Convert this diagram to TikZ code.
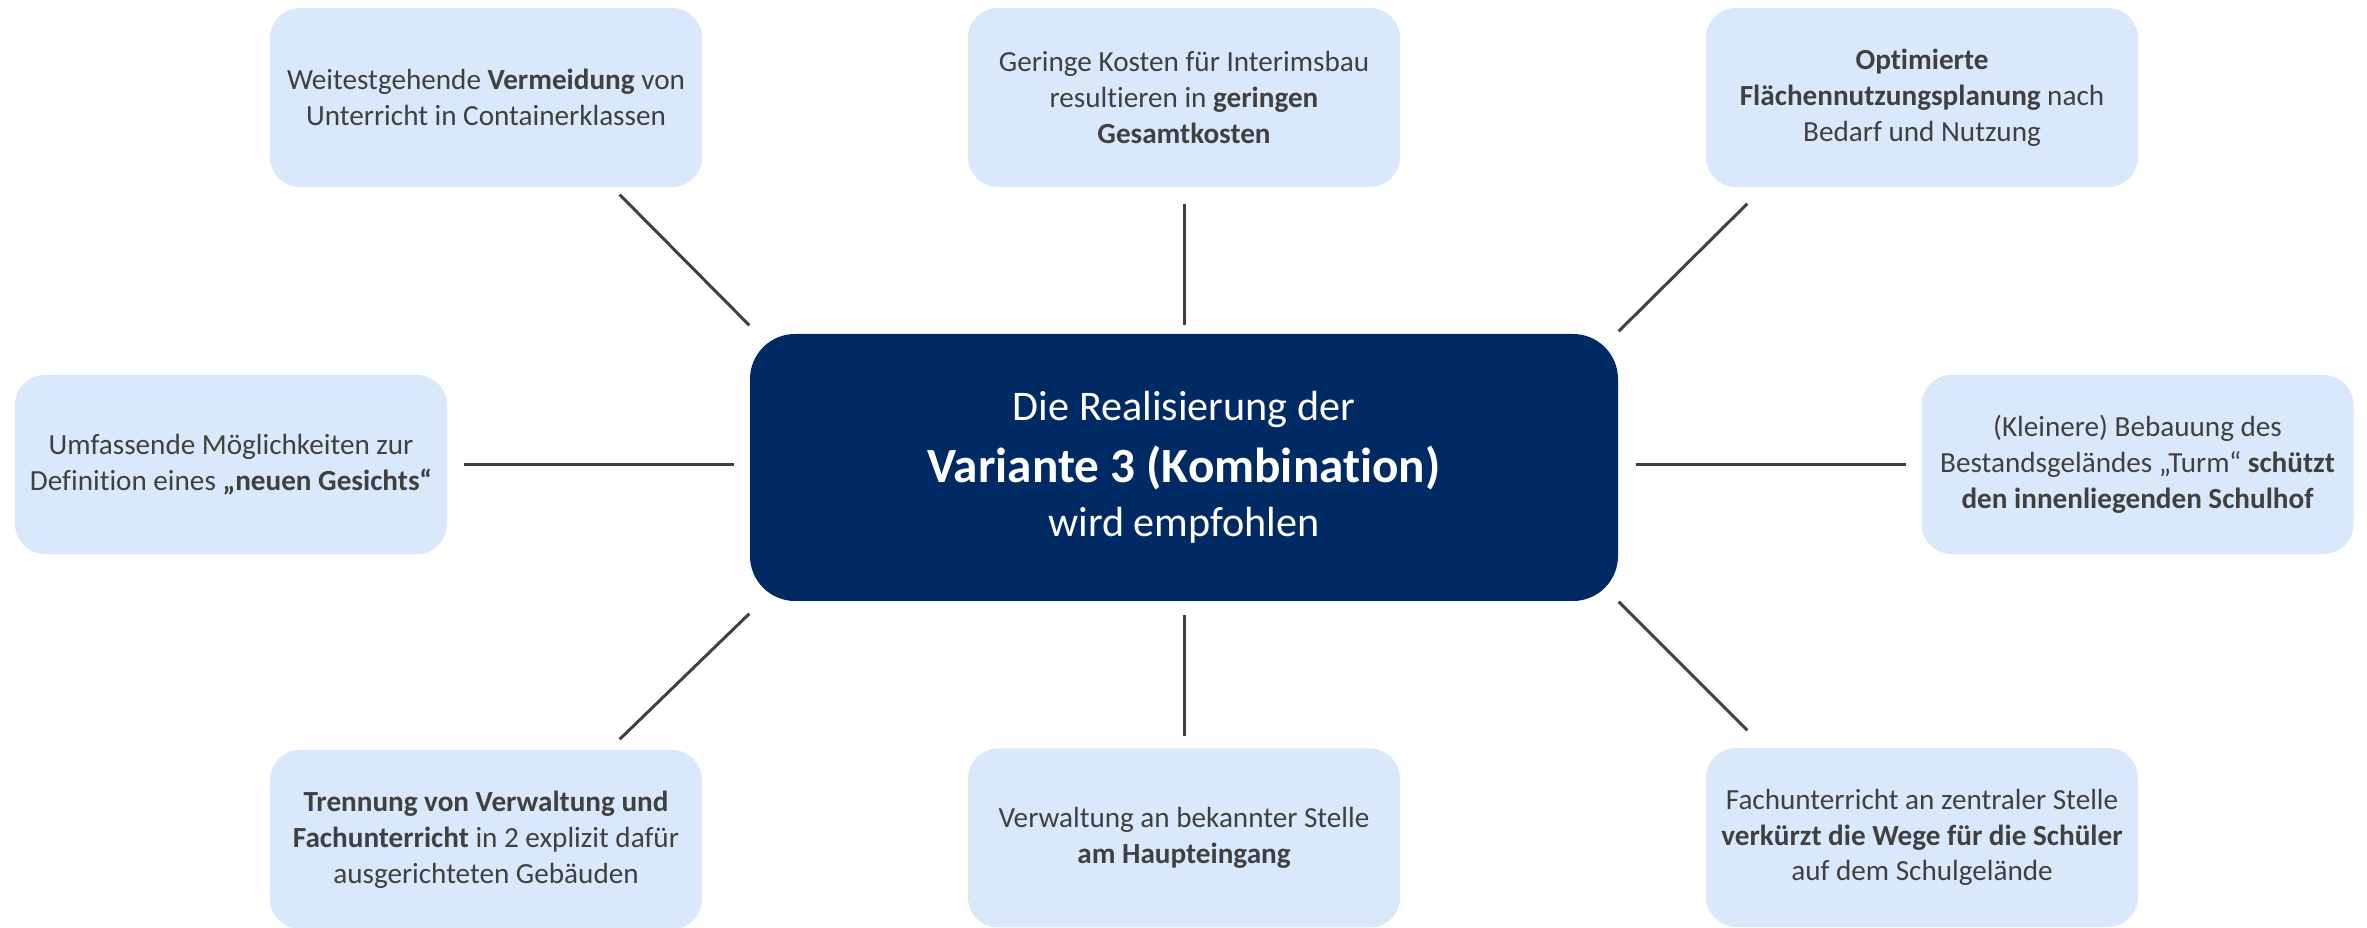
\documentclass[tikz,border=0pt]{standalone}
\usepackage{fontspec}
\setmainfont{Carlito}[Ligatures=NoCommon]
\usetikzlibrary{positioning}

\definecolor{ideafill}{RGB}{218,232,252}
\definecolor{corefill}{RGB}{0,42,100}
\definecolor{inktext}{RGB}{64,64,64}

\begin{document}
\begin{tikzpicture}[node distance=3.7cm,
  idea/.style={rectangle, rounded corners=0.3cm, fill=ideafill, text=inktext, align=center,
    minimum width=4.32cm, minimum height=1.79cm, inner sep=0pt, font=\fontsize{8.3}{10.2}\selectfont},
  core/.style={rectangle, rounded corners=0.45cm, fill=corefill, text=white, align=center,
    minimum width=8.68cm, minimum height=2.67cm, inner sep=0pt, font=\fontsize{12}{15.5}\selectfont},
  link/.style={draw=inktext, line width=0.85pt}]
\useasboundingbox (0,0) rectangle (23.67,-9.28);

\node (main) [core] at (11.84,-4.675) {Die Realisierung der\\[2pt]{\fontsize{14}{17}\selectfont\bfseries Variante 3 (Kombination)}\\wird empfohlen};

\node (tc) [idea, above of=main] {Geringe Kosten für Interimsbau\\resultieren in \textbf{geringen}\\\textbf{Gesamtkosten}};
\node (bc) [idea, below of=main, yshift=-0.005cm] {Verwaltung an bekannter Stelle\\\textbf{am Haupteingang}};
\node (tl) [idea, above of=main, xshift=-6.98cm] {Weitestgehende \textbf{Vermeidung} von\\Unterricht in Containerklassen};
\node (tr) [idea, above of=main, xshift=7.38cm] {\textbf{Optimierte}\\\textbf{Flächennutzungsplanung} nach\\Bedarf und Nutzung};
\node (bl) [idea, below of=main, xshift=-6.98cm, yshift=-0.02cm] {\textbf{Trennung von Verwaltung und}\\\textbf{Fachunterricht} in 2 explizit dafür\\ausgerichteten Gebäuden};
\node (br) [idea, below of=main, xshift=7.38cm] {Fachunterricht an zentraler Stelle\\\textbf{verkürzt die Wege für die Schüler}\\auf dem Schulgelände};
\node (ml) [idea, left of=main, xshift=-5.83cm, yshift=0.03cm] {Umfassende Möglichkeiten zur\\Definition eines \textbf{„neuen Gesichts“}};
\node (mr) [idea, right of=main, xshift=5.835cm, yshift=0.03cm] {(Kleinere) Bebauung des\\Bestandsgeländes „Turm“ \textbf{schützt}\\\textbf{den innenliegenden Schulhof}};

% spokes
\draw[link] ([shift={(0,0.08)}]main.north) -- ([shift={(0,-0.16)}]tc.south);
\draw[link] ([shift={(0,-0.13)}]main.south) -- ([shift={(0,0.12)}]bc.north);
\draw[link] ([shift={(-0.15,0)}]main.west |- ml.east) -- ([shift={(0.16,0)}]ml.east);
\draw[link] ([shift={(0.17,0)}]main.east |- mr.west) -- ([shift={(-0.15,0)}]mr.west);
\draw[link] ([shift={(0,0.08)}]main.north west) -- ([shift={(-0.83,-0.07)}]tl.south east);
\draw[link] ([shift={(0,0.02)}]main.north east) -- ([shift={(0.42,-0.16)}]tr.south west);
\draw[link] ([shift={(0,-0.12)}]main.south west) -- ([shift={(-0.83,0.10)}]bl.north east);
\draw[link] (main.south east) -- ([shift={(0.42,0.17)}]br.north west);
\end{tikzpicture}
\end{document}
